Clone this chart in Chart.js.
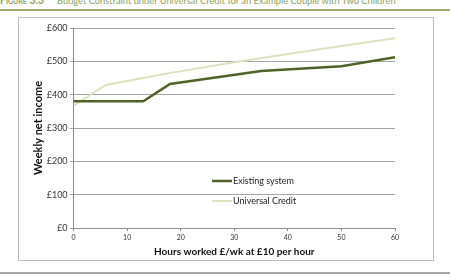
<!DOCTYPE html>
<html>
<head>
<meta charset="utf-8">
<script src="https://cdn.jsdelivr.net/npm/chart.js@4"></script>
<style>
  body { margin: 0; width: 450px; height: 276px; background: #fff; overflow: hidden; position: relative; font-family: Lato, "Open Sans", sans-serif; }
  #title { position: absolute; left: 0; top: -6px; font-size: 9.3px; color: #8ba25a; white-space: nowrap; }
  #title b { font-variant: small-caps; font-size: 10.5px; margin-right: 13px; }
  #rule { position: absolute; left: 0; top: 9px; width: 450px; height: 2px; background: #9aae6a; }
  #box { position: absolute; left: 18px; top: 17px; width: 414px; height: 242px; border: 1px solid #bdbdbd; }
  #bottom { position: absolute; left: 0; top: 272px; width: 450px; height: 2px; background: #a6a6a6; }
  canvas { position: absolute; left: 0; top: 0; }
</style>
</head>
<body>
<div id="title"><b>Figure 3.3</b>Budget Constraint under Universal Credit for an Example Couple with Two Children</div>
<div id="rule"></div>
<div id="box"><canvas id="chart" width="414" height="242"></canvas></div>
<div id="bottom"></div>
<script>
const seriesNames = ["Existing system", "Universal Credit"];
const existingHours = [0, 13, 18, 35, 50, 60];
const existingIncome = [380, 380, 432, 471, 485, 512];
const ucHours = [0, 6, 18, 30, 40, 50, 60];
const ucIncome = [367, 429, 465, 497, 522, 546, 569];
const xTicks = [0, 10, 20, 30, 40, 50, 60];
const yTicks = [0, 100, 200, 300, 400, 500, 600];

const toPoints = (xs, ys) => xs.map((x, i) => ({ x: x, y: ys[i] }));

// legend drawn inside the plot, like the original
const innerLegend = {
  id: "innerLegend",
  afterDraw(chart) {
    const c = chart.ctx;
    const x0 = 193, y0 = 163;
    c.save();
    c.font = "9px Lato, 'Open Sans', sans-serif";
    c.textBaseline = "middle";
    chart.data.datasets.forEach((ds, i) => {
      const y = y0 + i * 20;
      c.strokeStyle = ds.borderColor;
      c.lineWidth = ds.borderWidth;
      c.beginPath();
      c.moveTo(x0, y);
      c.lineTo(x0 + 20, y);
      c.stroke();
      c.fillStyle = "#222";
      c.fillText(ds.label, x0 + 21, y);
    });
    c.restore();
  }
};

new Chart(document.getElementById("chart").getContext("2d"), {
  type: "line",
  data: {
    datasets: [
      { label: seriesNames[0], data: toPoints(existingHours, existingIncome), borderColor: "#4f6228", borderWidth: 2.5 },
      { label: seriesNames[1], data: toPoints(ucHours, ucIncome), borderColor: "#d7e4bd", borderWidth: 2 }
    ]
  },
  options: {
    responsive: false,
    animation: false,
    elements: { point: { radius: 0 }, line: { tension: 0 } },
    layout: { padding: { top: 10, right: 38, bottom: 2, left: 12.5 } },
    plugins: { legend: { display: false }, tooltip: { enabled: false } },
    scales: {
      x: {
        type: "linear", min: 0, max: 60,
        afterBuildTicks: s => { s.ticks = xTicks.map(v => ({ value: v })); },
        grid: { display: true, drawOnChartArea: false, color: "#8c8c8c", tickLength: 3 },
        border: { color: "#8c8c8c" },
        ticks: { color: "#333", font: { size: 7, family: "Lato" }, padding: 3 },
        title: { display: true, text: "Hours worked £/wk at £10 per hour", color: "#111", font: { size: 10, weight: "bold", family: "Lato" }, padding: { top: 2, bottom: 0 } },
        afterFit: s => { s.height = 30; }
      },
      y: {
        min: 0, max: 600,
        afterBuildTicks: s => { s.ticks = yTicks.map(v => ({ value: v })); },
        grid: { color: "#a6a6a6", tickLength: 4 },
        border: { color: "#8c8c8c" },
        ticks: { color: "#333", font: { size: 9, family: "Lato" }, padding: 2, callback: v => "£" + v },
        title: { display: true, text: "Weekly net income", color: "#111", font: { size: 11, weight: "bold", family: "Lato" }, padding: { top: 0, bottom: 0 } }
      }
    }
  },
  plugins: [innerLegend]
});
</script>
</body>
</html>
